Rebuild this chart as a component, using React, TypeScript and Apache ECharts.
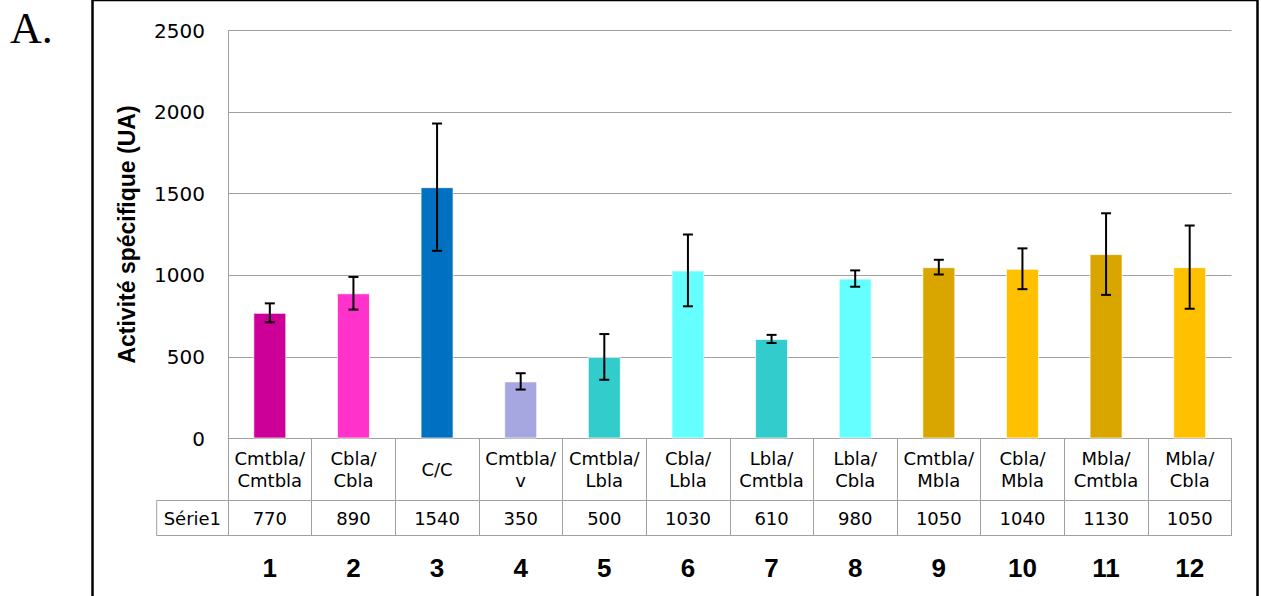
import React, { useEffect, useRef } from "react";
import * as echarts from "echarts";

const seriesName = "Série1";
const categories = [
  "Cmtbla/\nCmtbla",
  "Cbla/\nCbla",
  "C/C",
  "Cmtbla/\nv",
  "Cmtbla/\nLbla",
  "Cbla/\nLbla",
  "Lbla/\nCmtbla",
  "Lbla/\nCbla",
  "Cmtbla/\nMbla",
  "Cbla/\nMbla",
  "Mbla/\nCmtbla",
  "Mbla/\nCbla",
];
const values = [770, 890, 1540, 350, 500, 1030, 610, 980, 1050, 1040, 1130, 1050];
const errors = [58, 100, 390, 50, 140, 220, 25, 50, 45, 125, 250, 255];
const numbers = ["1", "2", "3", "4", "5", "6", "7", "8", "9", "10", "11", "12"];
const barColors = [
  "#CC0099",
  "#FF33CC",
  "#0070C0",
  "#A6A6E0",
  "#33CCCC",
  "#66FFFF",
  "#33CCCC",
  "#66FFFF",
  "#D9A600",
  "#FFC000",
  "#D9A600",
  "#FFC000",
];
const yTicks = { min: 0, max: 2500, interval: 500 };
const yName = "Activité spécifique (UA)";
const panelLabel = "A.";

const GRID_LEFT = 228;
const GRID_RIGHT_X = 1231.5;
const GRID_TOP = 30.5;
const GRID_BOTTOM_Y = 438.5;
const ROW1 = 62;
const ROW2 = 97;
const LINE = "#a0a0a0";
const FONT = "DejaVu Sans";

export default function App() {
  const ref = useRef<HTMLDivElement>(null);
  useEffect(() => {
    if (!ref.current) return;
    const chart = echarts.init(ref.current, null, { renderer: "svg" });
    const cellLeft = 156.7;
    const option: any = {
      animation: false,
      backgroundColor: "#ffffff",
      grid: {
        left: GRID_LEFT,
        top: GRID_TOP,
        width: GRID_RIGHT_X - GRID_LEFT,
        height: GRID_BOTTOM_Y - GRID_TOP,
        containLabel: false,
      },
      xAxis: [
        {
          type: "category",
          data: categories,
          position: "bottom",
          axisLine: { show: true, lineStyle: { color: LINE, width: 1 } },
          axisTick: { show: true, length: ROW2, lineStyle: { color: LINE, width: 1 } },
          axisLabel: {
            interval: 0,
            margin: 31,
            verticalAlign: "middle",
            lineHeight: 22.5,
            fontSize: 18,
            fontFamily: FONT,
            color: "#000",
          },
          splitLine: { show: false },
        },
        {
          type: "category",
          data: values.map(String),
          position: "bottom",
          offset: ROW1,
          axisLine: { show: true, lineStyle: { color: LINE, width: 1 } },
          axisTick: { show: false },
          axisLabel: {
            interval: 0,
            margin: 17.5,
            verticalAlign: "middle",
            fontSize: 18,
            fontFamily: FONT,
            color: "#000",
          },
        },
        {
          type: "category",
          data: numbers,
          position: "bottom",
          offset: ROW2,
          axisLine: { show: true, lineStyle: { color: LINE, width: 1 } },
          axisTick: { show: false },
          axisLabel: {
            interval: 0,
            margin: 32,
            verticalAlign: "middle",
            fontSize: 26,
            fontWeight: "bold",
            fontFamily: "Liberation Sans",
            color: "#000",
          },
        },
      ],
      yAxis: {
        type: "value",
        min: yTicks.min,
        max: yTicks.max,
        interval: yTicks.interval,
        name: yName,
        nameLocation: "middle",
        nameRotate: 90,
        nameGap: 90,
        nameTextStyle: {
          fontFamily: "Liberation Sans",
          fontWeight: "bold",
          fontSize: 23,
          color: "#000",
        },
        axisLine: { show: true, lineStyle: { color: LINE, width: 1 } },
        axisTick: { show: false },
        axisLabel: {
          margin: 23,
          fontSize: 20,
          fontFamily: FONT,
          color: "#000",
          formatter: (v: number) => String(v),
        },
        splitLine: { show: true, lineStyle: { color: LINE, width: 1 } },
      },
      series: [
        {
          name: seriesName,
          type: "bar",
          xAxisIndex: 0,
          barWidth: 33,
          data: values.map((v, i) => ({
            value: v,
            itemStyle: { color: barColors[i], borderColor: "rgba(255,255,255,0.7)", borderWidth: 1 },
          })),
          z: 2,
        },
        {
          type: "custom",
          xAxisIndex: 0,
          z: 5,
          data: values.map((v, i) => [i, v - errors[i], v + errors[i]]),
          encode: { x: 0, y: [1, 2] },
          renderItem: (params: any, api: any) => {
            const x = api.value(0);
            const hi = api.coord([x, api.value(2)]);
            const lo = api.coord([x, api.value(1)]);
            const hw = 5;
            const st = { stroke: "#000", lineWidth: 2 };
            return {
              type: "group",
              children: [
                { type: "line", shape: { x1: hi[0], y1: hi[1], x2: lo[0], y2: lo[1] }, style: st },
                { type: "line", shape: { x1: hi[0] - hw, y1: hi[1], x2: hi[0] + hw, y2: hi[1] }, style: st },
                { type: "line", shape: { x1: lo[0] - hw, y1: lo[1], x2: lo[0] + hw, y2: lo[1] }, style: st },
              ],
            };
          },
        },
      ],
      graphic: [
        {
          type: "rect",
          shape: { x: 92.5, y: 0, width: 1165, height: 640 },
          style: { fill: "none", stroke: "#000", lineWidth: 2.5 },
          silent: true,
          z: 10,
        },
        {
          type: "text",
          x: 10,
          y: 28,
          style: {
            text: panelLabel,
            fontFamily: "Liberation Serif",
            fontSize: 44,
            fill: "#000",
            verticalAlign: "middle",
            align: "left",
          },
        },
        {
          type: "line",
          shape: { x1: cellLeft, y1: GRID_BOTTOM_Y + ROW1, x2: GRID_LEFT, y2: GRID_BOTTOM_Y + ROW1 },
          style: { stroke: LINE, lineWidth: 1 },
        },
        {
          type: "line",
          shape: { x1: cellLeft, y1: GRID_BOTTOM_Y + ROW2, x2: GRID_LEFT, y2: GRID_BOTTOM_Y + ROW2 },
          style: { stroke: LINE, lineWidth: 1 },
        },
        {
          type: "line",
          shape: { x1: cellLeft, y1: GRID_BOTTOM_Y + ROW1, x2: cellLeft, y2: GRID_BOTTOM_Y + ROW2 },
          style: { stroke: LINE, lineWidth: 1 },
        },
        {
          type: "text",
          x: (cellLeft + GRID_LEFT) / 2,
          y: GRID_BOTTOM_Y + (ROW1 + ROW2) / 2,
          style: {
            text: seriesName,
            fontFamily: FONT,
            fontSize: 18,
            fill: "#000",
            align: "center",
            verticalAlign: "middle",
          },
        },
      ],
    };
    chart.setOption(option);
    return () => chart.dispose();
  }, []);
  return (
    <div
      ref={ref}
      style={{ position: "absolute", left: 0, top: 0, width: 1261, height: 596, background: "#fff" }}
    />
  );
}
